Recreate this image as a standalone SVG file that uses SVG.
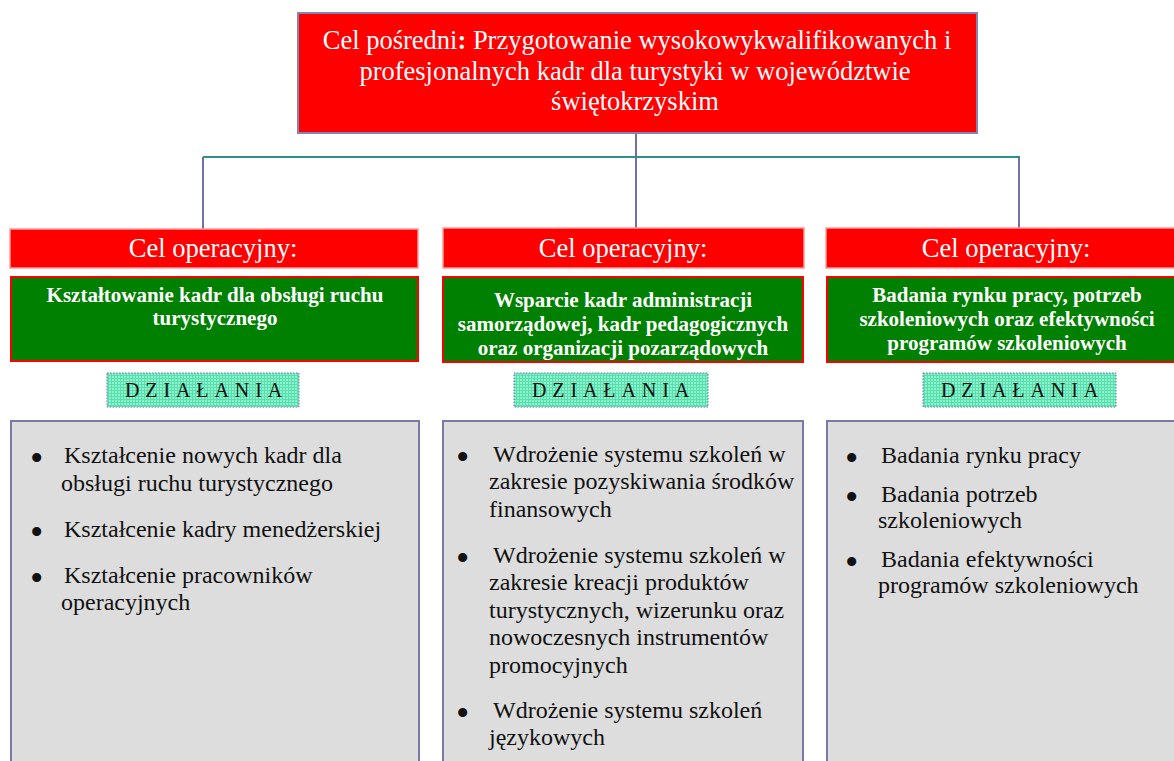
<svg xmlns="http://www.w3.org/2000/svg" width="1174" height="761" viewBox="0 0 1174 761">
<style>
.t{font-family:"Liberation Serif","Times New Roman",serif}
.title{font-size:26.5px;fill:#fff;text-anchor:middle}
.op{font-size:26.5px;fill:#fff;text-anchor:middle}
.gr{font-size:21px;font-weight:bold;fill:#fff;text-anchor:middle}
.dz{font-size:20px;fill:#111;letter-spacing:5.9px}
.li{font-size:24px;fill:#111}
.bu{font-size:38px;fill:#111}
.redbox{fill:#ff0000;stroke:#ff9a9a;stroke-width:1.5}
.greenbox{fill:#008000;stroke:#ff0000;stroke-width:2}
.graybox{fill:#dddddd;stroke:#7a7aaa;stroke-width:2}
.lbl{fill:url(#dots);stroke:#6a6ab0;stroke-width:1;stroke-dasharray:1.5 1.5}
.vline{stroke:#7070a4;stroke-width:2;fill:none}
.hline{stroke:#2f8f8f;stroke-width:2;fill:none}
</style>
<defs>
<pattern id="dots" width="3" height="3" patternUnits="userSpaceOnUse">
<rect width="3" height="3" fill="#86f7cc"/>
<rect width="3" height="1" fill="#5fdcae"/>
<rect width="1" height="3" fill="#5fdcae"/>
</pattern>
</defs>
<rect width="1174" height="761" fill="#fff"/>

<g id="connectors">
<line class="vline" x1="636" y1="133" x2="636" y2="157"/>
<line class="hline" x1="203" y1="157" x2="1020" y2="157"/>
<line class="vline" x1="203" y1="157" x2="203" y2="229"/>
<line class="vline" x1="636" y1="158" x2="636" y2="229"/>
<line class="vline" x1="1019" y1="158" x2="1019" y2="229"/>
</g>

<g id="top">
<rect x="298" y="13" width="679" height="120" fill="#ff0000" stroke="#8484b4" stroke-width="2"/>
<text class="t title" x="637" y="49">Cel pośredni<tspan font-weight="bold">:</tspan> Przygotowanie wysokowykwalifikowanych i</text>
<text class="t title" x="635" y="80">profesjonalnych kadr dla turystyki w województwie</text>
<text class="t title" x="635" y="110">świętokrzyskim</text>
</g>

<g id="op1">
<rect class="redbox" x="10" y="229" width="408" height="39"/>
<text class="t op" x="213" y="257">Cel operacyjny:</text>
</g>
<g id="goal1">
<rect class="greenbox" x="11" y="277" width="407" height="84"/>
<text class="t gr" x="215" y="302">Kształtowanie kadr dla obsługi ruchu</text>
<text class="t gr" x="215" y="325">turystycznego</text>
</g>
<g id="label1">
<rect class="lbl" x="107" y="373" width="192" height="34"/>
<text class="t dz" x="125" y="397">DZIAŁANIA</text>
</g>
<g id="actions1">
<rect class="graybox" x="11" y="421" width="408" height="350"/>
<text class="t bu" x="30" y="471">•</text>
<text class="t li" x="64" y="463">Kształcenie nowych kadr dla</text>
<text class="t li" x="61" y="491">obsługi ruchu turystycznego</text>
<text class="t bu" x="30" y="545">•</text>
<text class="t li" x="64" y="537">Kształcenie kadry menedżerskiej</text>
<text class="t bu" x="30" y="591">•</text>
<text class="t li" x="64" y="583">Kształcenie pracowników</text>
<text class="t li" x="61" y="610">operacyjnych</text>
</g>

<g id="op2">
<rect class="redbox" x="443" y="228" width="361" height="40"/>
<text class="t op" x="623" y="257">Cel operacyjny:</text>
</g>
<g id="goal2">
<rect class="greenbox" x="443" y="277" width="360" height="85"/>
<text class="t gr" x="623" y="307">Wsparcie kadr administracji</text>
<text class="t gr" x="623" y="331">samorządowej, kadr pedagogicznych</text>
<text class="t gr" x="623" y="355">oraz organizacji pozarządowych</text>
</g>
<g id="label2">
<rect class="lbl" x="514" y="373" width="194" height="34"/>
<text class="t dz" x="532" y="397">DZIAŁANIA</text>
</g>
<g id="actions2">
<rect class="graybox" x="443" y="421" width="360" height="350"/>
<text class="t bu" x="456" y="470">•</text>
<text class="t li" x="493" y="462">Wdrożenie systemu szkoleń w</text>
<text class="t li" x="489" y="489">zakresie pozyskiwania środków</text>
<text class="t li" x="489" y="517">finansowych</text>
<text class="t bu" x="456" y="571">•</text>
<text class="t li" x="493" y="563">Wdrożenie systemu szkoleń w</text>
<text class="t li" x="489" y="590">zakresie kreacji produktów</text>
<text class="t li" x="489" y="618">turystycznych, wizerunku oraz</text>
<text class="t li" x="489" y="645">nowoczesnych instrumentów</text>
<text class="t li" x="489" y="673">promocyjnych</text>
<text class="t bu" x="456" y="726">•</text>
<text class="t li" x="493" y="718">Wdrożenie systemu szkoleń</text>
<text class="t li" x="489" y="745">językowych</text>
</g>

<g id="op3">
<rect class="redbox" x="826" y="228" width="364" height="40"/>
<text class="t op" x="1006" y="257">Cel operacyjny:</text>
</g>
<g id="goal3">
<rect class="greenbox" x="827" y="277" width="363" height="85"/>
<text class="t gr" x="1007" y="302">Badania rynku pracy, potrzeb</text>
<text class="t gr" x="1007" y="326">szkoleniowych oraz efektywności</text>
<text class="t gr" x="1007" y="350">programów szkoleniowych</text>
</g>
<g id="label3">
<rect class="lbl" x="923" y="373" width="193" height="34"/>
<text class="t dz" x="941" y="397">DZIAŁANIA</text>
</g>
<g id="actions3">
<rect class="graybox" x="827" y="421" width="363" height="350"/>
<text class="t bu" x="845" y="471">•</text>
<text class="t li" x="881" y="463">Badania rynku pracy</text>
<text class="t bu" x="845" y="510">•</text>
<text class="t li" x="881" y="502">Badania potrzeb</text>
<text class="t li" x="878" y="528">szkoleniowych</text>
<text class="t bu" x="845" y="575">•</text>
<text class="t li" x="881" y="567">Badania efektywności</text>
<text class="t li" x="878" y="593">programów szkoleniowych</text>
</g>
</svg>
